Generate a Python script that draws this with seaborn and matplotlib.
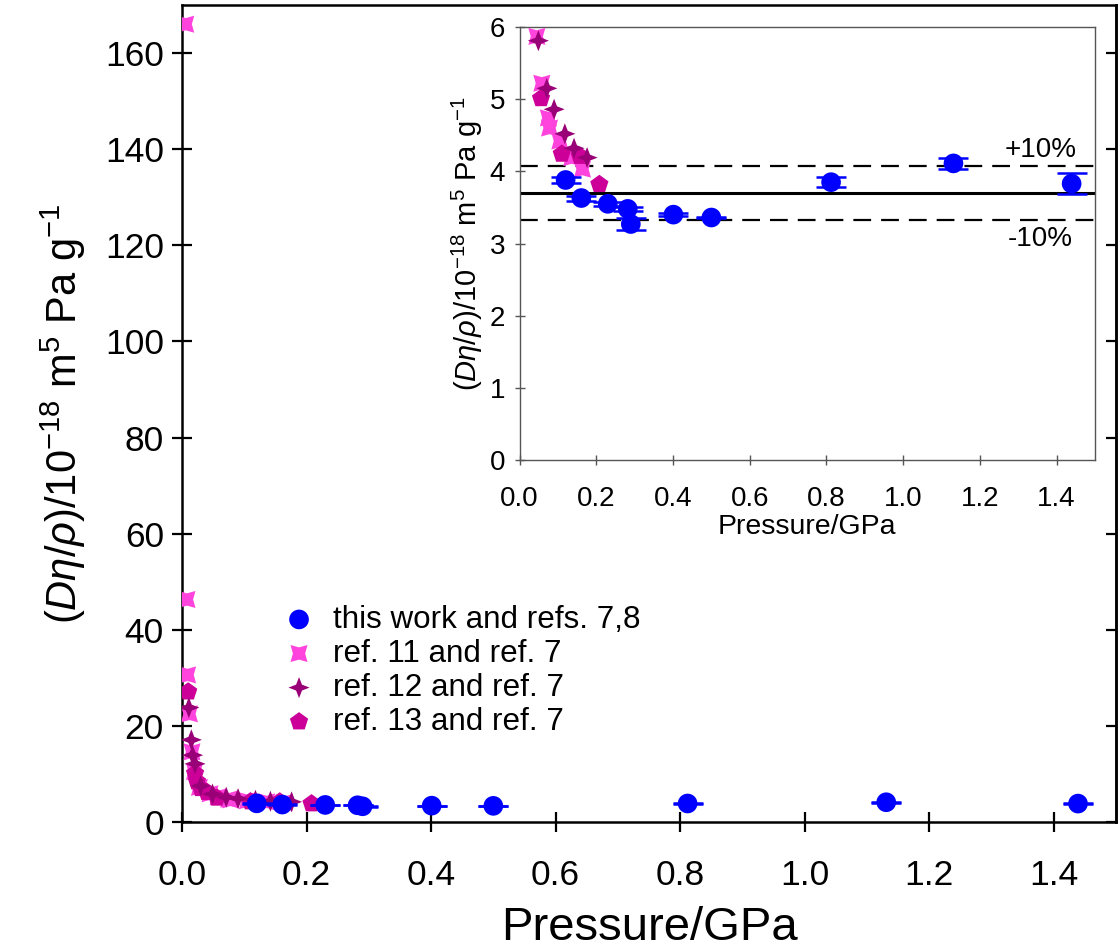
import numpy as np
import matplotlib
matplotlib.use("Agg")
import matplotlib.pyplot as plt
import seaborn as sns
from matplotlib.path import Path

# ---------------- data ----------------
p_this = [0.120, 0.161, 0.230, 0.282, 0.290, 0.401, 0.500, 0.812, 1.131, 1.439]
v_this = [3.88, 3.63, 3.55, 3.48, 3.27, 3.40, 3.36, 3.85, 4.11, 3.83]
e_this = [0.035, 0.035, 0.03, 0.03, 0.08, 0.025, 0.01, 0.07, 0.08, 0.15]

p_ref11 = [0.006, 0.008, 0.009, 0.012, 0.016, 0.020, 0.028, 0.045, 0.058, 0.075, 0.078, 0.105, 0.136, 0.164]
v_ref11 = [166.0, 46.3, 30.6, 22.5, 14.6, 10.5, 7.2, 5.87, 5.22, 4.74, 4.60, 4.42, 4.19, 4.03]

p_ref12 = [0.011, 0.015, 0.017, 0.021, 0.030, 0.049, 0.071, 0.090, 0.118, 0.142, 0.176]
v_ref12 = [23.8, 17.1, 13.9, 12.1, 7.5, 5.81, 5.15, 4.86, 4.52, 4.32, 4.19]

p_ref13 = [0.010, 0.021, 0.024, 0.030, 0.040, 0.056, 0.110, 0.157, 0.208]
v_ref13 = [27.1, 10.1, 8.4, 7.0, 6.2, 5.01, 4.24, 4.21, 3.82]

mean_val = 3.70
band_hi = 4.07
band_lo = 3.33

labels = ["this work and refs. 7,8", "ref. 11 and ref. 7", "ref. 12 and ref. 7", "ref. 13 and ref. 7"]
main_xticks = [0.0, 0.2, 0.4, 0.6, 0.8, 1.0, 1.2, 1.4]
main_yticks = [0, 20, 40, 60, 80, 100, 120, 140, 160]
inset_yticks = [0, 1, 2, 3, 4, 5, 6]

# ---------------- style ----------------
sns.set_theme(style="ticks")
plt.rcParams['font.family'] = ['Liberation Sans', 'DejaVu Sans']
plt.rcParams['mathtext.fontset'] = 'custom'
plt.rcParams['mathtext.rm'] = 'Liberation Sans'
plt.rcParams['mathtext.it'] = 'Liberation Sans:italic'
plt.rcParams['mathtext.bf'] = 'Liberation Sans:bold'
for key in ['text.color', 'axes.labelcolor', 'xtick.color', 'ytick.color',
            'xtick.labelcolor', 'ytick.labelcolor']:
    plt.rcParams[key] = 'black'

c_blue = "#0000FF"
c_ref11 = "#FF44DD"
c_ref12 = "#990077"
c_ref13 = "#CC0099"

k = 0.72
m_ref11 = Path([(1, 1), (0, k), (-1, 1), (-k, 0), (-1, -1), (0, -k), (1, -1), (k, 0), (1, 1)], closed=True)
q = 0.28
m_ref12 = Path([(0, 1), (q, q), (1, 0), (q, -q), (0, -1), (-q, -q), (-1, 0), (-q, q), (0, 1)], closed=True)

ylab = r"$(D\eta/\rho)$/10$^{-18}$ m$^{5}$ Pa g$^{-1}$"

fig = plt.figure(figsize=(11.2, 9.51), dpi=100)
ax = fig.add_axes([0.1625, 0.13565, 0.83393, 0.8591])
axi = fig.add_axes([0.4639, 0.5163, 0.5138, 0.4553])


def draw_points(a, legend=False):
    sns.scatterplot(x=p_ref11, y=v_ref11, marker=m_ref11, s=150, color=c_ref11, edgecolor='none',
                    linewidth=0, ax=a, zorder=3, label=labels[1] if legend else None, legend=False)
    sns.scatterplot(x=p_ref13, y=v_ref13, marker='p', s=190, color=c_ref13, edgecolor='none',
                    linewidth=0, ax=a, zorder=4, label=labels[3] if legend else None, legend=False)
    sns.scatterplot(x=p_ref12, y=v_ref12, marker=m_ref12, s=230, color=c_ref12, edgecolor='none',
                    linewidth=0, ax=a, zorder=5, label=labels[2] if legend else None, legend=False)
    a.errorbar(p_this, v_this, yerr=e_this, fmt='none', ecolor=c_blue, elinewidth=1.5,
               capsize=11, capthick=1.8, zorder=6)
    sns.scatterplot(x=p_this, y=v_this, marker='o', s=200, color=c_blue, edgecolor='none',
                    linewidth=0, ax=a, zorder=7, label=labels[0] if legend else None, legend=False)


draw_points(ax, legend=True)
draw_points(axi)

# ---------------- main axes ----------------
ax.set_xlim(0, 1.5)
ax.set_ylim(0, 170)
ax.set_xticks(main_xticks)
ax.set_xticklabels([f"{t:.1f}" for t in main_xticks])
ax.set_yticks(main_yticks)
ax.tick_params(direction='inout', length=14, width=1.6, labelsize=25.5, colors='black',
               top=False, right=False)
ax.tick_params(axis='x', pad=20)
ax.tick_params(axis='y', pad=6)
for s in ax.spines.values():
    s.set_visible(True)
    s.set_linewidth(1.8)
    s.set_color('black')
sec = ax.secondary_yaxis('right')
sec.set_yticks(main_yticks)
sec.tick_params(direction='in', length=7, width=1.6, labelright=False, colors='black')
sec.spines['right'].set_linewidth(1.8)
sec.spines['right'].set_color('black')
ax.set_xlabel("Pressure/GPa", fontsize=34, labelpad=10)
ax.set_ylabel(ylab, fontsize=30, labelpad=12)

handles, labs = ax.get_legend_handles_labels()
order = [labs.index(l) for l in labels]
ax.legend([handles[i] for i in order], [labs[i] for i in order], loc='upper left',
          bbox_to_anchor=(0.1085, 0.266), frameon=False, fontsize=22.6, handlelength=1.0,
          handletextpad=0.58, labelspacing=0.13, borderaxespad=0, borderpad=0)

# ---------------- inset ----------------
axi.set_facecolor('white')
axi.set_xlim(0, 1.5)
axi.set_ylim(0, 6)
axi.set_xticks(main_xticks)
axi.set_xticklabels([f"{t:.1f}" for t in main_xticks])
axi.set_yticks(inset_yticks)
axi.tick_params(direction='inout', length=7, width=1.0, color='#555555', labelcolor='black',
                labelsize=20, top=False, right=False)
axi.tick_params(axis='x', pad=15)
axi.tick_params(axis='y', pad=7)
for s in axi.spines.values():
    s.set_visible(True)
    s.set_linewidth(1.0)
    s.set_color('#555555')
axi.axhline(mean_val, color='black', lw=2.2, zorder=2)
axi.axhline(band_hi, color='black', lw=1.6, ls=(0, (8, 4.5)), zorder=2)
axi.axhline(band_lo, color='black', lw=1.6, ls=(0, (8, 4.5)), zorder=2)
axi.text(1.357, 4.11, "+10%", ha='center', va='bottom', fontsize=20, color='black')
axi.text(1.357, 3.24, "-10%", ha='center', va='top', fontsize=20, color='black')
axi.set_xlabel("Pressure/GPa", fontsize=20.5, labelpad=2)
axi.set_ylabel(ylab, fontsize=21, labelpad=3)

fig.savefig("out.png", dpi=100)
